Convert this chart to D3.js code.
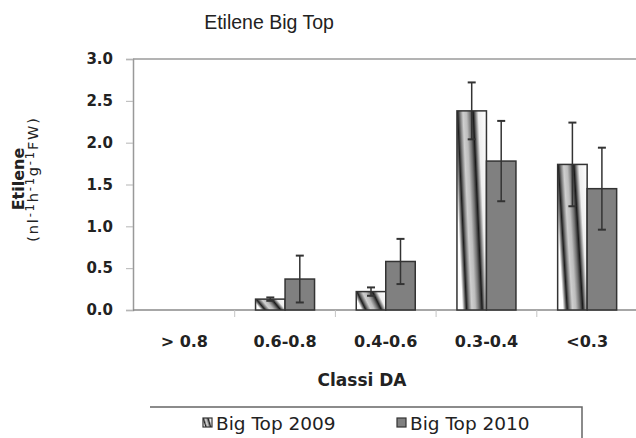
<!DOCTYPE html>
<html><head><meta charset="utf-8">
<script src="https://cdn.jsdelivr.net/npm/d3@7"></script>
<style>html,body{margin:0;padding:0;background:#fff;}svg{display:block;}</style>
</head><body>
<svg id="chart" width="636" height="438"></svg>
<script>
const categories = ["> 0.8", "0.6-0.8", "0.4-0.6", "0.3-0.4", "<0.3"];
const seriesNames = ["Big Top 2009", "Big Top 2010"];
const values2009 = [null, 0.13, 0.22, 2.38, 1.74];
const errors2009 = [null, 0.02, 0.05, 0.34, 0.50];
const values2010 = [null, 0.37, 0.58, 1.78, 1.45];
const errors2010 = [null, 0.28, 0.27, 0.48, 0.49];
const yTicks = [0, 0.5, 1.0, 1.5, 2.0, 2.5, 3.0];

const svg = d3.select("#chart");
const defs = svg.append("defs");
const grad = defs.append("linearGradient").attr("id", "g2009")
  .attr("x1", -0.3).attr("y1", 0).attr("x2", 1).attr("y2", 0)
  .attr("gradientTransform", "skewX(17)");
const stopsU = [[-0.3,"#ffffff"],[-0.12,"#ffffff"],[-0.04,"#777"],[0.02,"#1e1e1e"],[0.1,"#777"],
  [0.2,"#cfcfcf"],[0.32,"#bdbdbd"],[0.45,"#6f6f6f"],[0.55,"#1a1a1a"],[0.62,"#777"],[0.72,"#eeeeee"],[1,"#ffffff"]];
stopsU.forEach(s => grad.append("stop").attr("offset", (s[0] + 0.3) / 1.3).attr("stop-color", s[1]));

const x = d3.scaleBand().domain(categories).range([134, 637.5]);
const step = x.step();
const xs = d3.scaleBand().domain(seriesNames).range([step/2 - 29.5, step/2 + 29.5]);
const y = d3.scaleLinear().domain([0, 3]).range([310, 59]);

// title
svg.append("text").attr("x", 269).attr("y", 29).attr("text-anchor", "middle")
  .attr("font-family", "Liberation Sans, Arial, sans-serif").attr("font-size", 19.5).attr("fill", "#222")
  .text("Etilene Big Top");

// top border line
svg.append("line").attr("x1", 133).attr("x2", 636).attr("y1", y(3)).attr("y2", y(3))
  .attr("stroke", "#9a9a9a").attr("stroke-width", 1.5);

// y axis
const yAxis = svg.append("g").attr("transform", "translate(133,0)")
  .call(d3.axisLeft(y).tickValues(yTicks).tickFormat(d3.format(".1f")).tickSize(7).tickPadding(13));
yAxis.select(".domain").attr("stroke", "#999").attr("stroke-width", 1.5);
yAxis.selectAll(".tick line").attr("stroke", "#b5b5b5");
yAxis.selectAll(".tick text").attr("font-family", "DejaVu Sans, sans-serif").attr("font-weight", "bold")
  .attr("font-size", 15).attr("fill", "#222");

// x axis baseline
svg.append("line").attr("x1", 133).attr("x2", 636).attr("y1", y(0)).attr("y2", y(0))
  .attr("stroke", "#8a8a8a").attr("stroke-width", 1.5);
// separator ticks
svg.selectAll(".sep").data(categories.slice(1)).enter().append("line")
  .attr("x1", d => x(d)).attr("x2", d => x(d)).attr("y1", y(0)).attr("y2", y(0) + 7)
  .attr("stroke", "#c4c4c4");
// x labels
svg.selectAll(".xl").data(categories).enter().append("text")
  .attr("x", d => x(d) + step/2).attr("y", 347).attr("text-anchor", "middle")
  .attr("font-family", "DejaVu Sans, sans-serif").attr("font-weight", "bold").attr("font-size", 16)
  .attr("fill", "#222").text(d => d);

// bars
const rows = categories.map((c, i) => ({c, i}));
const drawSeries = (name, vals, errs, fill) => {
  const g = svg.append("g");
  const data = rows.filter(r => vals[r.i] != null);
  g.selectAll("rect").data(data).enter().append("rect")
    .attr("x", r => x(r.c) + xs(name)).attr("width", xs.bandwidth())
    .attr("y", r => y(vals[r.i])).attr("height", r => y(0) - y(vals[r.i]))
    .attr("fill", fill).attr("stroke", "#333").attr("stroke-width", 1.5);
  const cx = r => x(r.c) + xs(name) + xs.bandwidth()/2;
  g.selectAll(".ev").data(data).enter().append("line")
    .attr("x1", cx).attr("x2", cx)
    .attr("y1", r => y(vals[r.i] + errs[r.i])).attr("y2", r => y(vals[r.i] - errs[r.i]))
    .attr("stroke", "#333").attr("stroke-width", 1.5);
  [1, -1].forEach(sg => {
    g.selectAll(".cap" + sg).data(data).enter().append("line")
      .attr("x1", r => cx(r) - 4).attr("x2", r => cx(r) + 4)
      .attr("y1", r => y(vals[r.i] + sg * errs[r.i]))
      .attr("y2", r => y(vals[r.i] + sg * errs[r.i]))
      .attr("stroke", "#333").attr("stroke-width", 2);
  });
};
drawSeries(seriesNames[0], values2009, errors2009, "url(#g2009)");
drawSeries(seriesNames[1], values2010, errors2010, "#808080");

// y label
svg.append("text").attr("transform", "translate(24,179) rotate(-90)")
  .attr("text-anchor", "middle").attr("font-family", "DejaVu Sans, sans-serif")
  .attr("font-weight", "bold").attr("font-size", 16).attr("fill", "#222").text("Etilene");
const t2 = svg.append("text").attr("transform", "translate(38,179) rotate(-90)")
  .attr("text-anchor", "middle").attr("font-family", "DejaVu Sans, sans-serif")
  .attr("font-size", 14.5).attr("letter-spacing", 1.8).attr("fill", "#222");
const parts = [["(nl", false], ["-1", true], ["h", false], ["-1", true], ["g", false], ["-1", true], ["FW)", false]];
parts.forEach((p, k) => {
  const ts = t2.append("tspan").text(p[0]);
  if (p[1]) ts.attr("font-size", 11.5).attr("dy", -4);
  else if (k > 0) ts.attr("dy", 4);
});

// x title
svg.append("text").attr("x", 362).attr("y", 386).attr("text-anchor", "middle")
  .attr("font-family", "DejaVu Sans, sans-serif").attr("font-weight", "bold").attr("font-size", 17)
  .attr("fill", "#222").text("Classi DA");

// legend
svg.append("path").attr("d", "M150,407H582V438").attr("fill", "none").attr("stroke", "#666").attr("stroke-width", 1.5);
const legX = [203, 397];
const leg = svg.selectAll(".leg").data(seriesNames).enter().append("g")
  .attr("transform", (d, i) => `translate(${legX[i]},418)`);
leg.append("rect").attr("width", 9).attr("height", 9)
  .attr("fill", (d, i) => i === 0 ? "url(#g2009)" : "#808080").attr("stroke", "#333").attr("stroke-width", 1.2);
leg.append("text").attr("x", 13).attr("y", 12).attr("font-family", "DejaVu Sans, sans-serif")
  .attr("font-size", 18.5).attr("fill", "#222").text(d => d);
</script>
</body></html>
